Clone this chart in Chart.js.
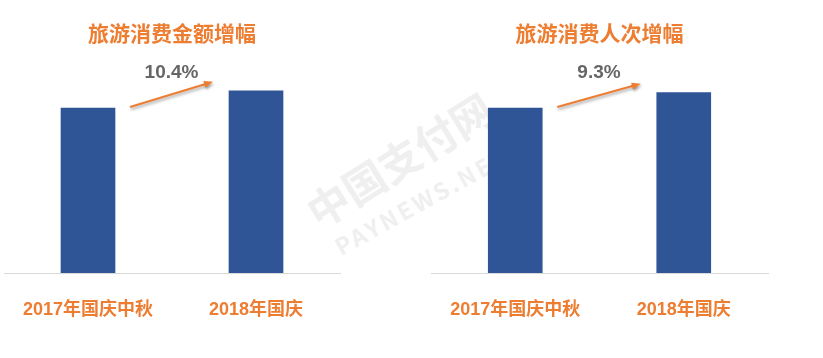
<!DOCTYPE html>
<html>
<head>
<meta charset="utf-8">
<script src="https://cdn.jsdelivr.net/npm/chart.js@4/dist/chart.umd.min.js"></script>
<style>
  body { margin: 0; background: #fff; }
  #wrap { position: relative; width: 823px; height: 358px; overflow: hidden; background: #fff; }
  .mark { position: absolute; color: #efefef; font-family: "Noto Sans CJK SC", sans-serif; font-weight: bold; white-space: nowrap; transform-origin: 0 100%; }
  canvas { position: absolute; top: 0; }
</style>
</head>
<body>
<div id="wrap">
  <div class="mark" style="left:322px; top:188px; font-size:42px; line-height:46px; transform: rotate(-32deg);">中国支付网</div>
  <div class="mark" style="left:342px; top:234px; font-size:23px; line-height:24px; letter-spacing:3px; transform: rotate(-29deg);">PAYNEWS.NET</div>
  <canvas id="amountChart" width="411" height="358" style="left:0"></canvas>
  <canvas id="tripChart" width="412" height="358" style="left:411px"></canvas>
</div>
<script>
// index values, 2017 = 100
const categories = ['2017年国庆中秋', '2018年国庆'];
const amountValues = [100, 110.4];
const tripValues = [100, 109.3];
const amountTitle = '旅游消费金额增幅';
const tripTitle = '旅游消费人次增幅';

const orange = '#ED7D31';
const blue = '#2F5597';

// title, arrow and growth % over the bars
const growthNote = {
  id: 'growthNote',
  afterDatasetsDraw(chart, args, opts) {
    const ctx = chart.ctx;
    const area = chart.chartArea;
    const bars = chart.getDatasetMeta(0).data;
    const vals = chart.data.datasets[0].data;
    const b0 = bars[0], b1 = bars[1];

    ctx.save();
    ctx.fillStyle = orange;
    ctx.font = 'bold 21px "Noto Sans CJK SC", sans-serif';
    ctx.textAlign = 'center';
    ctx.textBaseline = 'middle';
    ctx.fillText(opts.title, (area.left + area.right) / 2, 33);

    const x1 = b0.x + b0.width / 2 + 15, y1 = b0.y - 1;
    const x2 = b1.x - b1.width / 2 - 16, y2 = b1.y - 9;
    const ang = Math.atan2(y2 - y1, x2 - x1);
    ctx.shadowColor = 'rgba(0,0,0,0.35)';
    ctx.shadowBlur = 3;
    ctx.shadowOffsetX = 1;
    ctx.shadowOffsetY = 2;
    ctx.strokeStyle = orange;
    ctx.lineWidth = 2;
    ctx.beginPath();
    ctx.moveTo(x1, y1);
    ctx.lineTo(x2 - 6 * Math.cos(ang), y2 - 6 * Math.sin(ang));
    ctx.stroke();
    ctx.beginPath();
    ctx.moveTo(x2, y2);
    ctx.lineTo(x2 - 9 * Math.cos(ang) + 3.5 * Math.sin(ang), y2 - 9 * Math.sin(ang) - 3.5 * Math.cos(ang));
    ctx.lineTo(x2 - 9 * Math.cos(ang) - 3.5 * Math.sin(ang), y2 - 9 * Math.sin(ang) + 3.5 * Math.cos(ang));
    ctx.closePath();
    ctx.fillStyle = orange;
    ctx.fill();

    ctx.shadowColor = 'transparent';
    const pct = ((vals[1] / vals[0] - 1) * 100).toFixed(1) + '%';
    ctx.fillStyle = '#666666';
    ctx.font = 'bold 19px "Liberation Sans", Arial, sans-serif';
    ctx.fillText(pct, (x1 + x2) / 2, 73);
    ctx.restore();
  }
};

function makeChart(id, title, values, padLeft, padRight) {
  return new Chart(document.getElementById(id), {
    type: 'bar',
    data: {
      labels: categories,
      datasets: [{
        data: values,
        backgroundColor: blue,
        barThickness: 54,
      }],
    },
    options: {
      responsive: false,
      animation: false,
      layout: {
        padding: { left: padLeft, right: padRight, top: 25.5, bottom: 19.4 },
      },
      scales: {
        x: {
          grid: { display: false },
          border: { display: true, color: '#d9d9d9', width: 1 },
          ticks: {
            color: orange,
            padding: 18,
            font: { family: '"Liberation Sans", "Noto Sans CJK SC", sans-serif', size: 18, weight: 'bold' },
          },
        },
        y: { display: false, min: 0, max: 150 },
      },
      plugins: {
        legend: { display: false },
        tooltip: { enabled: false },
        growthNote: { title: title },
      },
    },
    plugins: [growthNote],
  });
}

makeChart('amountChart', amountTitle, amountValues, 4, 71);
makeChart('tripChart', tripTitle, tripValues, 20, 55);
</script>
</body>
</html>
